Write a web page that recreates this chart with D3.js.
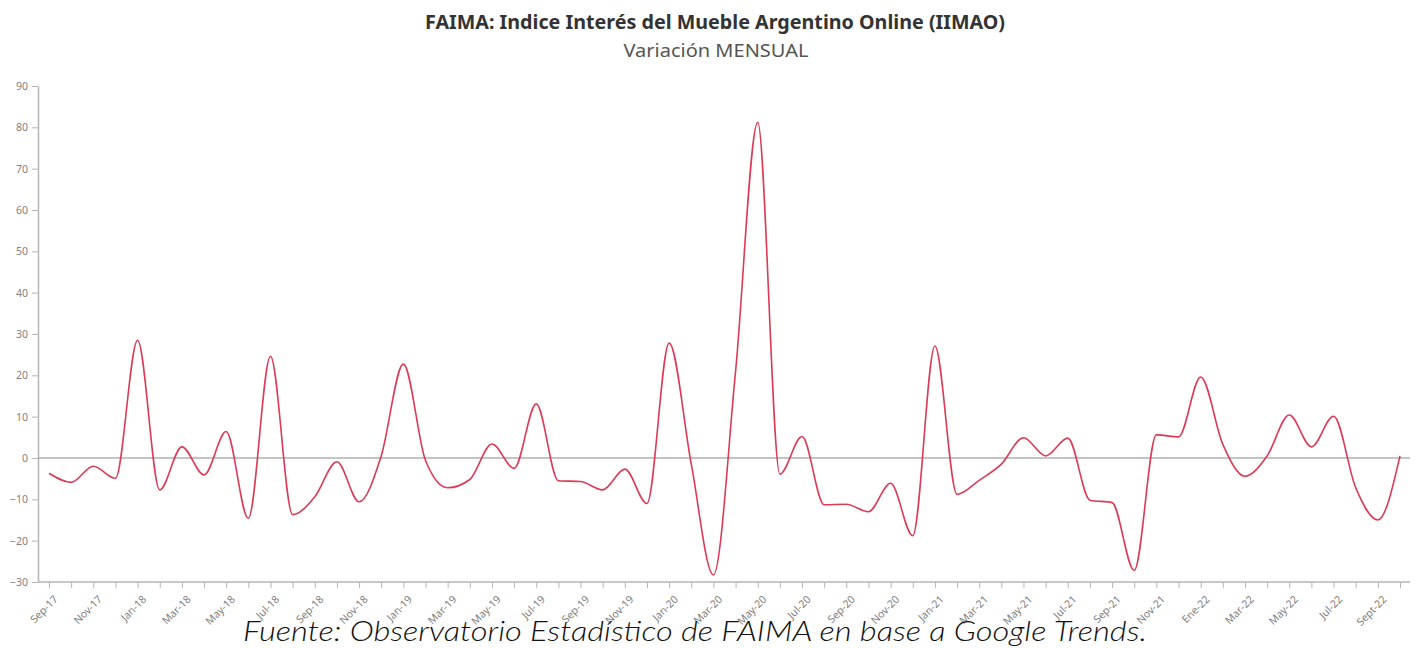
<!DOCTYPE html>
<html>
<head>
<meta charset="utf-8">
<script src="https://cdn.jsdelivr.net/npm/d3@7"></script>
<style>
	html, body { margin: 0; padding: 0; background: #fff; }
	svg { display: block; }
	.axis text { font-family: "Noto Sans", "Open Sans", sans-serif; font-size: 10.5px; fill: #808080; }
	.axis line, .axis path { stroke: #b5b5b5; }
</style>
</head>
<body>
<svg id="chart"></svg>
<script>
// months shown on the x axis (labels only on every second month)
var months = [
	'Sep-17', 'Oct-17', 'Nov-17', 'Dec-17', 'Jan-18', 'Feb-18', 'Mar-18', 'Apr-18', 'May-18', 'Jun-18',
	'Jul-18', 'Aug-18', 'Sep-18', 'Oct-18', 'Nov-18', 'Dec-18', 'Jan-19', 'Feb-19', 'Mar-19', 'Apr-19',
	'May-19', 'Jun-19', 'Jul-19', 'Aug-19', 'Sep-19', 'Oct-19', 'Nov-19', 'Dec-19', 'Jan-20', 'Feb-20',
	'Mar-20', 'Apr-20', 'May-20', 'Jun-20', 'Jul-20', 'Aug-20', 'Sep-20', 'Oct-20', 'Nov-20', 'Dec-20',
	'Jan-21', 'Feb-21', 'Mar-21', 'Apr-21', 'May-21', 'Jun-21', 'Jul-21', 'Aug-21', 'Sep-21', 'Oct-21',
	'Nov-21', 'Dic-21', 'Ene-22', 'Feb-22', 'Mar-22', 'Abr-22', 'May-22', 'Jun-22', 'Jul-22', 'Ago-22',
	'Sept-22', 'Oct-22'
];

// monthly variation (%)
var variacion = [
	-3.7, -5.9, -2.0, -4.9, 28.5, -7.7, 2.7, -4.1, 6.4, -14.6,
	24.6, -13.7, -9.4, -0.9, -10.6, 0.5, 22.7, -0.6, -7.2, -5.2,
	3.4, -2.5, 13.1, -5.5, -5.7, -7.7, -2.7, -11.0, 27.8, -1.5,
	-28.3, 21.0, 81.2, -3.9, 5.2, -11.3, -11.2, -13.0, -6.1, -18.8,
	27.1, -8.8, -5.4, -1.5, 4.9, 0.5, 4.8, -10.2, -10.8, -27.2,
	5.6, 5.1, 19.6, 3.3, -4.4, 0.5, 10.4, 2.7, 10.1, -7.2,
	-15.0, 0.5
];

var yTicks = [-30, -20, -10, 0, 10, 20, 30, 40, 50, 60, 70, 80, 90];

var title = 'FAIMA: Indice Interés del Mueble Argentino Online (IIMAO)',
	subtitle = 'Variación MENSUAL',
	source = 'Fuente: Observatorio Estadístico de FAIMA en base a Google Trends.';

var width = 1417,
	height = 648,
	plot = { left: 49, right: 1400, top: 86, bottom: 582 },
	axisX0 = 38,
	axisX1 = 1410;

var svg = d3.select('#chart')
	.attr('width', width)
	.attr('height', height);

var x = d3.scalePoint()
	.domain(months)
	.range([plot.left, plot.right]);

var y = d3.scaleLinear()
	.domain([-30, 90])
	.range([plot.bottom, plot.top]);

// titles
svg.append('text')
	.attr('x', 715)
	.attr('y', 29)
	.attr('text-anchor', 'middle')
	.attr('textLength', 580)
	.attr('lengthAdjust', 'spacingAndGlyphs')
	.style('font-family', '"Noto Sans", "Open Sans", sans-serif')
	.style('font-weight', 'bold')
	.style('font-size', '19px')
	.style('fill', '#333')
	.text(title);

svg.append('text')
	.attr('x', 716)
	.attr('y', 57)
	.attr('text-anchor', 'middle')
	.attr('textLength', 185)
	.attr('lengthAdjust', 'spacingAndGlyphs')
	.style('font-family', '"Noto Sans", "Open Sans", sans-serif')
	.style('font-size', '18.5px')
	.style('fill', '#555')
	.text(subtitle);

// y axis
var yAxis = svg.append('g')
	.attr('class', 'axis y-axis')
	.attr('transform', 'translate(' + axisX0 + ',0)')
	.call(d3.axisLeft(y).tickValues(yTicks).tickSize(6).tickSizeOuter(0).tickPadding(4));

yAxis.select('.domain').attr('stroke-width', 1.5);

// x axis
var xAxis = svg.append('g')
	.attr('class', 'axis x-axis')
	.attr('transform', 'translate(0,' + plot.bottom + ')')
	.call(d3.axisBottom(x)
		.tickSize(6)
		.tickSizeOuter(0)
		.tickFormat(function(d, i) { return i % 2 === 0 ? d : ''; }));

xAxis.select('.domain').remove();
xAxis.append('line')
	.attr('x1', axisX0)
	.attr('x2', axisX1)
	.attr('y1', 0)
	.attr('y2', 0)
	.attr('stroke', '#b5b5b5')
	.attr('stroke-width', 1.5);

xAxis.selectAll('text')
	.attr('text-anchor', 'end')
	.attr('dy', null)
	.attr('y', null)
	.attr('transform', 'translate(9,18) rotate(-45)');

// zero line
svg.append('line')
	.attr('x1', axisX0)
	.attr('x2', axisX1)
	.attr('y1', y(0))
	.attr('y2', y(0))
	.attr('stroke', '#b0b0b0')
	.attr('stroke-width', 1.5);

// series line
var line = d3.line()
	.x(function(d, i) { return x(months[i]); })
	.y(function(d) { return y(d); })
	.curve(d3.curveMonotoneX);

svg.append('path')
	.datum(variacion)
	.attr('d', line)
	.attr('fill', 'none')
	.attr('stroke', '#dc3a55')
	.attr('stroke-width', 1.6);

// source note
svg.append('text')
	.attr('x', 695)
	.attr('y', 641)
	.attr('text-anchor', 'middle')
	.attr('textLength', 904)
	.attr('lengthAdjust', 'spacingAndGlyphs')
	.style('font-family', 'Lato, "Open Sans", sans-serif')
	.style('font-style', 'italic')
	.style('font-weight', 300)
	.style('font-size', '27px')
	.style('fill', '#111')
	.text(source);
</script>
</body>
</html>
